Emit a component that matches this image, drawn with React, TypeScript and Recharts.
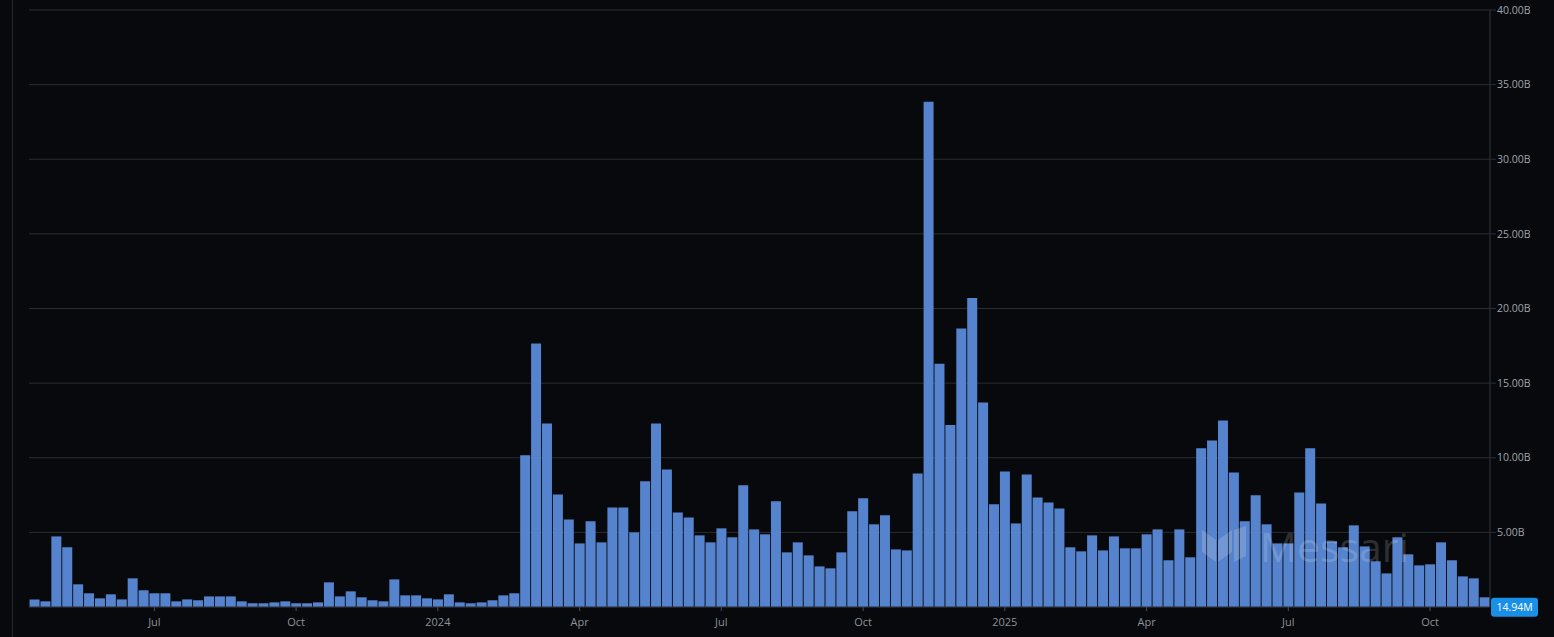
import React from 'react';
import { BarChart, Bar, XAxis, YAxis, CartesianGrid, ReferenceLine } from 'recharts';

// weekly volume, billions USD (Apr 2023 -> Nov 2025)
const volume = [
  0.51, 0.38, 4.73, 4.0, 1.52, 0.92, 0.58, 0.85, 0.51, 1.92, 1.12, 0.92, 0.92, 0.38, 0.51,
  0.45, 0.71, 0.71, 0.71, 0.38, 0.25, 0.25, 0.31, 0.38, 0.25, 0.25, 0.31, 1.65, 0.71, 1.05,
  0.65, 0.45, 0.38, 1.85, 0.78, 0.78, 0.58, 0.51, 0.85, 0.31, 0.25, 0.31, 0.45, 0.78, 0.92,
  10.16, 17.66, 12.3, 7.54, 5.87, 4.26, 5.74, 4.33, 6.67, 6.67, 5.0, 8.42, 12.3, 9.22, 6.34,
  6.0, 4.8, 4.33, 5.27, 4.67, 8.15, 5.2, 4.87, 7.08, 3.66, 4.33, 3.46, 2.72, 2.59, 3.66,
  6.41, 7.28, 5.54, 6.14, 3.86, 3.79, 8.95, 33.85, 16.3, 12.2, 18.66, 20.7, 13.7, 6.88, 9.08,
  5.6, 8.88, 7.34, 7.0, 6.6, 4.0, 3.73, 4.8, 3.79, 4.73, 3.93, 3.93, 4.87, 5.2, 3.13,
  5.2, 3.33, 10.63, 11.16, 12.5, 9.02, 5.74, 7.48, 5.54, 4.26, 4.26, 7.68, 10.63, 6.94, 4.4,
  4.0, 5.47, 4.06, 3.06, 2.25, 4.67, 3.53, 2.79, 2.86, 4.33, 3.13, 2.05, 1.92, 0.65,
];

const tickIndex = [11, 24, 37, 50, 63, 76, 89, 102, 115, 128];
const tickLabels = ['Jul', 'Oct', '2024', 'Apr', 'Jul', 'Oct', '2025', 'Apr', 'Jul', 'Oct'];
const yTicks = [5, 10, 15, 20, 25, 30, 35, 40];
const lastValue = 0.01494;
const lastLabel = '14.94M';

const data = volume.map((v, i) => ({ week: i, value: v }));

const font = '"Open Sans", "Noto Sans", sans-serif';

const Badge = (props: any) => {
  const vb = props.viewBox;
  if (!vb) return null;
  const x = vb.x + vb.width + 1;
  const y = vb.y;
  return (
    <g>
      <rect x={x} y={y - 9} width={47} height={19} rx={3} fill="#1a8fe6" />
      <text x={x + 23.5} y={y + 4} textAnchor="middle" fill="#ffffff" fontSize={10.5} fontFamily={font}>
        {lastLabel}
      </text>
    </g>
  );
};

export default function App() {
  return (
    <div style={{ position: 'relative', width: 1554, height: 637, background: '#07090c', overflow: 'hidden' }}>
      <style>{`body{margin:0;background:#07090c}`}</style>
      <div style={{ position: 'absolute', left: 12, top: 0, width: 1, height: 637, background: '#26292f' }} />
      <BarChart
        width={1554}
        height={637}
        data={data}
        margin={{ top: 10, right: 0, left: 29, bottom: 5 }}
        barCategoryGap="5%"
      >
        <CartesianGrid stroke="#2a2d33" vertical={false} />
        <XAxis
          dataKey="week"
          type="category"
          ticks={tickIndex}
          interval={0}
          tickFormatter={(w: number) => tickLabels[tickIndex.indexOf(w)] ?? ''}
          height={25}
          tick={{ fill: '#8d9199', fontSize: 11, fontFamily: font }}
          tickSize={4}
          tickMargin={7}
          tickLine={{ stroke: '#4a4d54' }}
          axisLine={{ stroke: '#2a2d33' }}
        />
        <YAxis
          orientation="right"
          width={64}
          domain={[0, 40]}
          ticks={yTicks}
          tickFormatter={(v: number) => `${v.toFixed(2)}B`}
          tick={{ fill: '#a0a4ab', fontSize: 10.5, fontFamily: font }}
          tickSize={6}
          tickMargin={1}
          tickLine={{ stroke: '#2a2d33' }}
          axisLine={{ stroke: '#33363c' }}
          allowDataOverflow
        />
        <Bar dataKey="value" fill="#5683cd" isAnimationActive={false} />
        <ReferenceLine y={lastValue} stroke="none" label={<Badge />} />
      </BarChart>
      <div
        style={{
          position: 'absolute',
          left: 1202,
          top: 524,
          display: 'flex',
          alignItems: 'center',
          gap: 14,
          color: 'rgba(255,255,255,0.17)',
          pointerEvents: 'none',
        }}
      >
        <svg width={44} height={40} viewBox="0 0 44 40">
          <polygon points="0,4 14,14 14,36 0,26" fill="rgba(255,255,255,0.17)" />
          <polygon points="16,14 30,4 30,26 16,36" fill="rgba(255,255,255,0.17)" />
          <polygon points="32,4 44,0 44,30 32,36" fill="rgba(255,255,255,0.17)" />
        </svg>
        <span style={{ fontFamily: font, fontSize: 41, fontWeight: 500, lineHeight: '44px' }}>Messari</span>
      </div>
    </div>
  );
}
